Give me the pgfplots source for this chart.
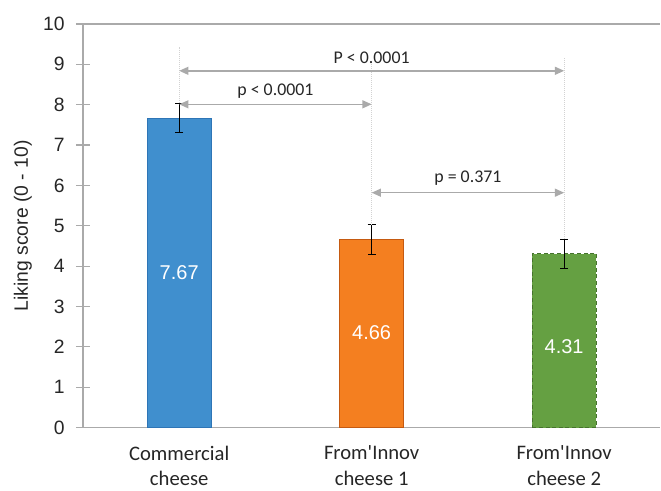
\documentclass[border=0pt]{standalone}
\usepackage{pgfplots}
\pgfplotsset{compat=1.18}
\usepackage{fontspec}
\setmainfont{Liberation Sans}
\newfontfamily\calibri{Carlito}
\usetikzlibrary{arrows.meta}
\definecolor{cblue}{RGB}{64,143,206}
\definecolor{cblueE}{RGB}{46,117,182}
\definecolor{corange}{RGB}{244,127,32}
\definecolor{corangeE}{RGB}{197,90,17}
\definecolor{cgreen}{RGB}{101,160,66}
\definecolor{cgreenE}{RGB}{70,115,45}
\definecolor{axgray}{RGB}{170,170,170}
\definecolor{argray}{RGB}{170,170,170}
\definecolor{txt}{RGB}{38,38,38}
\begin{document}
\begin{tikzpicture}
\begin{axis}[
  at={(0,0)}, anchor=south west,
  scale only axis,
  width=433.5pt, height=303pt,
  xmin=-0.5, xmax=2.5,
  ymin=0, ymax=10,
  ytick={0,1,...,10},
  xtick={0,1,2},
  xticklabels={{Commercial\\cheese},{From'Innov\\cheese 1},{From'Innov\\cheese 2}},
  minor xtick={0.5,1.5},
  axis x line*=bottom,
  axis y line*=left,
  axis line style={axgray, line width=0.9pt, -},
  tick align=center,
  major tick length=10.5pt,
  minor tick length=10pt,
  xtick style={draw=none},
  ytick style={axgray, line width=0.9pt},
  minor x tick style={axgray, line width=0.9pt},
  /pgf/number format/assume math mode=true,
  yticklabel style={font=\fontsize{14.5}{17}\selectfont, text=txt, xshift=-5pt},
  xticklabel style={font=\calibri\fontsize{15.5}{19}\selectfont, text=txt, align=center, yshift=-5pt},
  ylabel={Liking score (0 - 10)},
  every axis y label/.style={at={(rel axis cs:0,0.5)}, xshift=-45pt, rotate=90, anchor=center, font=\fontsize{14.5}{17}\selectfont, text=txt},
  clip=false,
  bar width=48pt,
  error bars/error bar style={black, line width=0.8pt},
  error bars/error mark options={rotate=90, mark size=3pt, black, line width=0.8pt},
]
\draw[axgray, line width=0.9pt] (axis cs:-0.5,10) -- (axis cs:2.5,10);
\addplot[ybar, fill=cblue, draw=cblueE, line width=0.6pt,
  error bars/.cd, y dir=both, y explicit]
  coordinates {(0,7.67) +- (0,0.36)};
\addplot[ybar, fill=corange, draw=corangeE, line width=0.6pt,
  error bars/.cd, y dir=both, y explicit]
  coordinates {(1,4.66) +- (0,0.37)};
\addplot[ybar, fill=cgreen, draw=cgreenE, line width=0.6pt, densely dashed,
  error bars/.cd, y dir=both, y explicit, error bar style={solid}]
  coordinates {(2,4.31) +- (0,0.36)};
% data labels
\node[white, font=\fontsize{15}{18}\selectfont] at (axis cs:0,3.84) {7.67};
\node[white, font=\fontsize{15}{18}\selectfont] at (axis cs:1,2.35) {4.66};
\node[white, font=\fontsize{15}{18}\selectfont] at (axis cs:2,2.0) {4.31};
% guide lines
\draw[gray!35, densely dotted, line width=0.5pt] (axis cs:0,8.04) -- (axis cs:0,9.43);
\draw[gray!35, densely dotted, line width=0.5pt] (axis cs:1,5.04) -- (axis cs:1,9.07);
\draw[gray!35, densely dotted, line width=0.5pt] (axis cs:2,4.68) -- (axis cs:2,9.18);
% comparison arrows
\draw[argray, line width=1.1pt, {Triangle[length=7pt,width=6pt]}-{Triangle[length=7pt,width=6pt]}] (axis cs:0,8.84) -- (axis cs:2,8.84);
\draw[argray, line width=1.1pt, {Triangle[length=7pt,width=6pt]}-{Triangle[length=7pt,width=6pt]}] (axis cs:0,8.01) -- (axis cs:1,8.01);
\draw[argray, line width=1.1pt, {Triangle[length=7pt,width=6pt]}-{Triangle[length=7pt,width=6pt]}] (axis cs:1,5.82) -- (axis cs:2,5.82);
\node[txt, font=\calibri\fontsize{13.4}{16}\selectfont] at (axis cs:1,9.17) {P < 0.0001};
\node[txt, font=\calibri\fontsize{13.4}{16}\selectfont] at (axis cs:0.5,8.34) {p < 0.0001};
\node[txt, font=\calibri\fontsize{13.4}{16}\selectfont] at (axis cs:1.5,6.19) {p = 0.371};
\end{axis}
\path[use as bounding box] (-62.25pt,-46.5pt) rectangle (433.5pt,321pt);
\end{tikzpicture}
\end{document}
